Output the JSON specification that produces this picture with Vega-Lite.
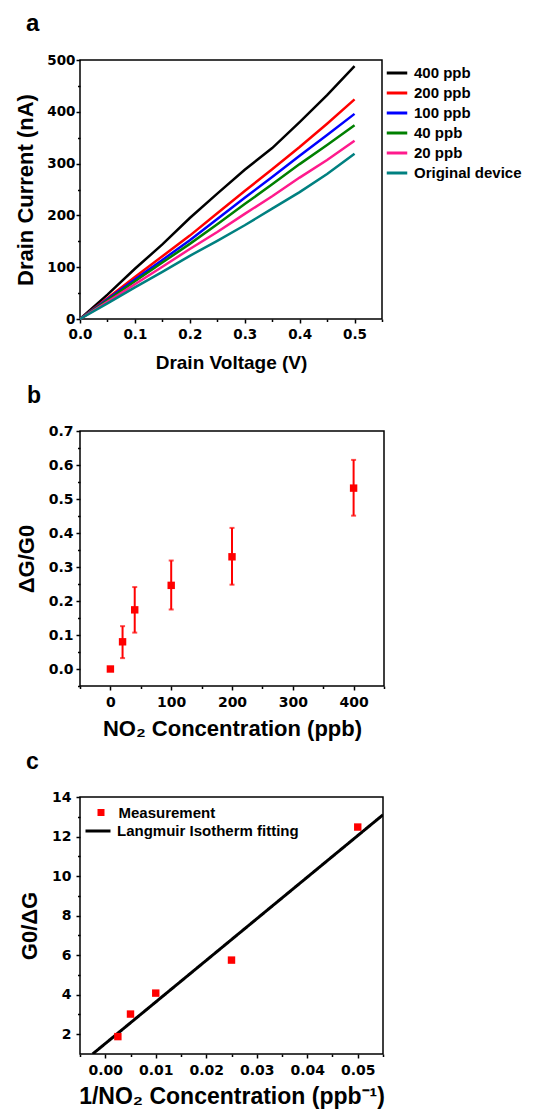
{
  "$schema": "https://vega.github.io/schema/vega-lite/v6.json",
  "padding": {"left": 14, "top": 11, "right": 0, "bottom": 0},
  "spacing": 10,
  "resolve": {"scale": {"color": "independent", "strokeDash": "independent"}, "legend": {"color": "independent", "strokeDash": "independent"}},
  "config": {
    "font": "Liberation Sans",
    "view": {"stroke": "black", "strokeWidth": 1.5},
    "axis": {
      "grid": false, "domain": false,
      "tickColor": "black", "tickWidth": 1.5,
      "labelFont": "DejaVu Sans", "labelFontWeight": "bold", "labelColor": "black",
      "labelOverlap": false, "labelFlush": false,
      "titleFont": "Liberation Sans", "titleFontWeight": "bold", "titleColor": "black"
    },
    "title": {"font": "Liberation Sans", "fontWeight": "bold", "anchor": "start", "frame": "group", "baseline": "alphabetic", "color": "black"}
  },
  "vconcat": [
    {
      "title": {"text": "a", "fontSize": 24, "dx": -54, "offset": 17},
      "width": 302, "height": 259,
      "data": {"values": [
        {"s": "400 ppb", "v": 0, "i": 0}, {"s": "400 ppb", "v": 0.05, "i": 47}, {"s": "400 ppb", "v": 0.1, "i": 97}, {"s": "400 ppb", "v": 0.15, "i": 144}, {"s": "400 ppb", "v": 0.2, "i": 195}, {"s": "400 ppb", "v": 0.25, "i": 242}, {"s": "400 ppb", "v": 0.3, "i": 288}, {"s": "400 ppb", "v": 0.35, "i": 330}, {"s": "400 ppb", "v": 0.4, "i": 380}, {"s": "400 ppb", "v": 0.45, "i": 432}, {"s": "400 ppb", "v": 0.5, "i": 488},
        {"s": "200 ppb", "v": 0, "i": 0}, {"s": "200 ppb", "v": 0.05, "i": 40}, {"s": "200 ppb", "v": 0.1, "i": 81}, {"s": "200 ppb", "v": 0.15, "i": 121}, {"s": "200 ppb", "v": 0.2, "i": 161}, {"s": "200 ppb", "v": 0.25, "i": 204}, {"s": "200 ppb", "v": 0.3, "i": 247}, {"s": "200 ppb", "v": 0.35, "i": 289}, {"s": "200 ppb", "v": 0.4, "i": 332}, {"s": "200 ppb", "v": 0.45, "i": 377}, {"s": "200 ppb", "v": 0.5, "i": 424},
        {"s": "100 ppb", "v": 0, "i": 0}, {"s": "100 ppb", "v": 0.05, "i": 38}, {"s": "100 ppb", "v": 0.1, "i": 76}, {"s": "100 ppb", "v": 0.15, "i": 114}, {"s": "100 ppb", "v": 0.2, "i": 152}, {"s": "100 ppb", "v": 0.25, "i": 193}, {"s": "100 ppb", "v": 0.3, "i": 234}, {"s": "100 ppb", "v": 0.35, "i": 274}, {"s": "100 ppb", "v": 0.4, "i": 315}, {"s": "100 ppb", "v": 0.45, "i": 355}, {"s": "100 ppb", "v": 0.5, "i": 396},
        {"s": "40 ppb", "v": 0, "i": 0}, {"s": "40 ppb", "v": 0.05, "i": 36}, {"s": "40 ppb", "v": 0.1, "i": 73}, {"s": "40 ppb", "v": 0.15, "i": 109}, {"s": "40 ppb", "v": 0.2, "i": 145}, {"s": "40 ppb", "v": 0.25, "i": 183}, {"s": "40 ppb", "v": 0.3, "i": 222}, {"s": "40 ppb", "v": 0.35, "i": 260}, {"s": "40 ppb", "v": 0.4, "i": 299}, {"s": "40 ppb", "v": 0.45, "i": 336}, {"s": "40 ppb", "v": 0.5, "i": 374},
        {"s": "20 ppb", "v": 0, "i": 0}, {"s": "20 ppb", "v": 0.05, "i": 33}, {"s": "20 ppb", "v": 0.1, "i": 67}, {"s": "20 ppb", "v": 0.15, "i": 101}, {"s": "20 ppb", "v": 0.2, "i": 135}, {"s": "20 ppb", "v": 0.25, "i": 168}, {"s": "20 ppb", "v": 0.3, "i": 203}, {"s": "20 ppb", "v": 0.35, "i": 237}, {"s": "20 ppb", "v": 0.4, "i": 273}, {"s": "20 ppb", "v": 0.45, "i": 307}, {"s": "20 ppb", "v": 0.5, "i": 344},
        {"s": "Original device", "v": 0, "i": 0}, {"s": "Original device", "v": 0.05, "i": 30}, {"s": "Original device", "v": 0.1, "i": 61}, {"s": "Original device", "v": 0.15, "i": 91}, {"s": "Original device", "v": 0.2, "i": 122}, {"s": "Original device", "v": 0.25, "i": 151}, {"s": "Original device", "v": 0.3, "i": 181}, {"s": "Original device", "v": 0.35, "i": 213}, {"s": "Original device", "v": 0.4, "i": 245}, {"s": "Original device", "v": 0.45, "i": 280}, {"s": "Original device", "v": 0.5, "i": 319}
      ]},
      "mark": {"type": "line", "strokeWidth": 2.5},
      "encoding": {
        "x": {"field": "v", "type": "quantitative",
          "scale": {"domain": [0, 0.55], "nice": false, "zero": false},
          "axis": {"title": "Drain Voltage (V)", "titleFontSize": 19, "titlePadding": 13,
            "labelFontSize": 13.5, "labelPadding": 4,
            "values": [0, 0.05, 0.1, 0.15, 0.2, 0.25, 0.3, 0.35, 0.4, 0.45, 0.5, 0.55],
            "labelExpr": "abs(datum.value*10 - round(datum.value*10)) < 0.001 ? format(datum.value, '.1f') : ''",
            "tickSize": {"condition": {"test": "abs(datum.value*10 - round(datum.value*10)) < 0.001", "value": 4}, "value": 2.5}}},
        "y": {"field": "i", "type": "quantitative",
          "scale": {"domain": [0, 500], "nice": false, "zero": false},
          "axis": {"title": "Drain Current (nA)", "titleFontSize": 22, "titlePadding": 9,
            "labelFontSize": 13.5, "labelPadding": 1,
            "values": [0, 50, 100, 150, 200, 250, 300, 350, 400, 450, 500],
            "labelExpr": "datum.value % 100 === 0 ? format(datum.value, 'd') : ''",
            "tickSize": {"condition": {"test": "datum.value % 100 === 0", "value": 4}, "value": 2.5}}},
        "color": {"field": "s", "type": "nominal",
          "scale": {"domain": ["400 ppb", "200 ppb", "100 ppb", "40 ppb", "20 ppb", "Original device"],
                    "range": ["#000000", "#ff0000", "#0000ff", "#008000", "#ff1a8c", "#008080"]},
          "legend": {"title": null, "orient": "none", "legendX": 305, "legendY": 1,
            "symbolType": "stroke", "symbolSize": 420, "symbolStrokeWidth": 3,
            "labelFont": "Liberation Sans", "labelFontWeight": "bold", "labelFontSize": 15, "labelColor": "black",
            "labelOffset": 5, "rowPadding": 0, "padding": 0, "labelLimit": 200}}
      }
    },
    {
      "title": {"text": "b", "fontSize": 23, "dx": -53, "offset": 16},
      "width": 304, "height": 255,
      "data": {"values": [
        {"c": 0, "g": 0.0, "lo": null, "hi": null},
        {"c": 20, "g": 0.080, "lo": 0.032, "hi": 0.126},
        {"c": 40, "g": 0.174, "lo": 0.107, "hi": 0.241},
        {"c": 100, "g": 0.246, "lo": 0.175, "hi": 0.319},
        {"c": 200, "g": 0.330, "lo": 0.248, "hi": 0.415},
        {"c": 400, "g": 0.532, "lo": 0.451, "hi": 0.615}
      ]},
      "encoding": {
        "x": {"field": "c", "type": "quantitative",
          "scale": {"domain": [-50, 450], "nice": false, "zero": false},
          "axis": {"title": "NO₂ Concentration (ppb)", "titleFontSize": 22, "titlePadding": 9,
            "labelFontSize": 14, "labelPadding": 5,
            "values": [-50, 0, 50, 100, 150, 200, 250, 300, 350, 400, 450],
            "labelExpr": "datum.value % 100 === 0 ? format(datum.value, 'd') : ''",
            "tickSize": {"condition": {"test": "datum.value % 100 === 0", "value": 4}, "value": 2.5}}},
        "y": {"field": "g", "type": "quantitative",
          "scale": {"domain": [-0.05, 0.7], "nice": false, "zero": false},
          "axis": {"title": "ΔG/G0", "titleFontSize": 22, "titlePadding": 10,
            "labelFontSize": 14, "labelPadding": 3,
            "values": [-0.05, 0, 0.05, 0.1, 0.15, 0.2, 0.25, 0.3, 0.35, 0.4, 0.45, 0.5, 0.55, 0.6, 0.65, 0.7],
            "labelExpr": "abs(datum.value*10 - round(datum.value*10)) < 0.001 && datum.value > -0.01 ? format(datum.value, '.1f') : ''",
            "tickSize": {"condition": {"test": "abs(datum.value*10 - round(datum.value*10)) < 0.001", "value": 4}, "value": 2.5}}}
      },
      "layer": [
        {"transform": [{"filter": "datum.lo != null"}],
         "mark": {"type": "rule", "color": "#ff0000", "strokeWidth": 2},
         "encoding": {"y": {"field": "lo", "type": "quantitative"}, "y2": {"field": "hi"}}},
        {"transform": [{"filter": "datum.lo != null"}],
         "mark": {"type": "tick", "orient": "horizontal", "color": "#ff0000", "size": 5, "thickness": 2},
         "encoding": {"y": {"field": "lo", "type": "quantitative"}}},
        {"transform": [{"filter": "datum.hi != null"}],
         "mark": {"type": "tick", "orient": "horizontal", "color": "#ff0000", "size": 5, "thickness": 2},
         "encoding": {"y": {"field": "hi", "type": "quantitative"}}},
        {"mark": {"type": "point", "shape": "square", "filled": true, "color": "#ff0000", "size": 55, "opacity": 1}}
      ]
    },
    {
      "title": {"text": "c", "fontSize": 23, "dx": -54, "offset": 16},
      "width": 303, "height": 257,
      "layer": [
        {
          "data": {"values": [
            {"x": -0.0025, "y": 1.0, "s": "Langmuir Isotherm fitting"},
            {"x": 0.055, "y": 13.1, "s": "Langmuir Isotherm fitting"}
          ]},
          "mark": {"type": "line", "color": "black", "strokeWidth": 3, "clip": true},
          "encoding": {
            "x": {"field": "x", "type": "quantitative"},
            "y": {"field": "y", "type": "quantitative"},
            "strokeDash": {"field": "s", "type": "nominal",
              "scale": {"domain": ["Langmuir Isotherm fitting"], "range": [[1, 0]]},
              "legend": {"title": null, "orient": "none", "legendX": 4, "legendY": 20, "padding": 0,
                "symbolType": "stroke", "symbolSize": 625, "symbolStrokeWidth": 3, "symbolStrokeColor": "black",
                "labelFont": "Liberation Sans", "labelFontWeight": "bold", "labelFontSize": 15, "labelColor": "black",
                "labelOffset": 5, "labelLimit": 300}}
          }
        },
        {
          "data": {"values": [
            {"x": 0.0025, "y": 1.88, "s": "Measurement"},
            {"x": 0.005, "y": 3.02, "s": "Measurement"},
            {"x": 0.01, "y": 4.08, "s": "Measurement"},
            {"x": 0.025, "y": 5.75, "s": "Measurement"},
            {"x": 0.05, "y": 12.48, "s": "Measurement"}
          ]},
          "mark": {"type": "point", "shape": "square", "filled": true, "size": 55, "opacity": 1},
          "encoding": {
            "x": {"field": "x", "type": "quantitative"},
            "y": {"field": "y", "type": "quantitative"},
            "color": {"field": "s", "type": "nominal",
              "scale": {"domain": ["Measurement"], "range": ["#ff0000"]},
              "legend": {"title": null, "orient": "none", "legendX": 13.5, "legendY": 8, "padding": 0,
                "symbolType": "square", "symbolSize": 49,
                "labelFont": "Liberation Sans", "labelFontWeight": "bold", "labelFontSize": 15, "labelColor": "black",
                "labelOffset": 10, "labelLimit": 300}}
          }
        }
      ],
      "encoding": {
        "x": {"field": "x", "type": "quantitative",
          "scale": {"domain": [-0.005, 0.055], "nice": false, "zero": false},
          "axis": {"title": "1/NO₂ Concentration (ppb⁻¹)", "titleFontSize": 23, "titlePadding": 8,
            "labelFontSize": 14, "labelPadding": 5,
            "values": [-0.005, 0, 0.005, 0.01, 0.015, 0.02, 0.025, 0.03, 0.035, 0.04, 0.045, 0.05, 0.055],
            "labelExpr": "abs(datum.value*100 - round(datum.value*100)) < 0.001 ? format(datum.value, '.2f') : ''",
            "tickSize": {"condition": {"test": "abs(datum.value*100 - round(datum.value*100)) < 0.001", "value": 4}, "value": 2.5}}},
        "y": {"field": "y", "type": "quantitative",
          "scale": {"domain": [1, 14], "nice": false, "zero": false},
          "axis": {"title": "G0/ΔG", "titleFontSize": 22, "titlePadding": 10,
            "labelFontSize": 14, "labelPadding": 5,
            "values": [2, 3, 4, 5, 6, 7, 8, 9, 10, 11, 12, 13, 14],
            "labelExpr": "datum.value % 2 === 0 ? format(datum.value, 'd') : ''",
            "tickSize": {"condition": {"test": "datum.value % 2 === 0", "value": 4}, "value": 2.5}}}
      },
      "resolve": {"scale": {"x": "shared", "y": "shared"}}
    }
  ]
}
